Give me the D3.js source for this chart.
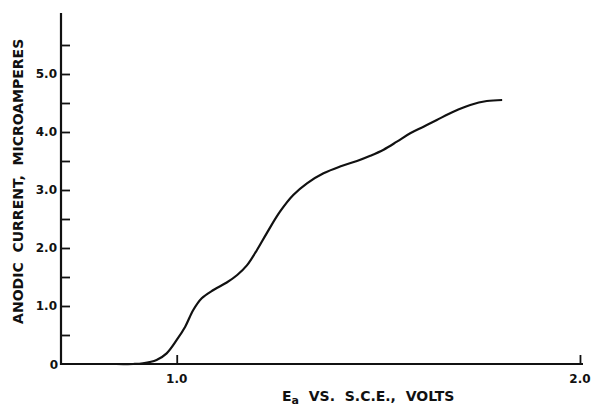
<!DOCTYPE html>
<html>
<head>
<meta charset="utf-8">
<script src="https://cdn.jsdelivr.net/npm/d3@7/dist/d3.min.js"></script>
<style>
  html, body { margin: 0; padding: 0; background: #fff; }
  svg { display: block; }
  .lbl { font-family: "DejaVu Sans", sans-serif; font-weight: bold; fill: #111; }
</style>
</head>
<body>
<svg id="chart" width="591" height="406"></svg>
<script>
// Anodic polarization curve: potential (V vs. S.C.E.) and current (µA)
const potential = [0.713, 0.85, 0.892, 0.916, 0.95, 0.975, 1.000, 1.021, 1.041, 1.062, 1.091, 1.124, 1.150, 1.174, 1.199, 1.223, 1.256, 1.289, 1.323, 1.364, 1.405, 1.447, 1.480, 1.513, 1.546, 1.579, 1.612, 1.645, 1.686, 1.728, 1.769, 1.807];
const current   = [0, 0, 0, 0.012, 0.07, 0.184, 0.414, 0.643, 0.931, 1.133, 1.276, 1.405, 1.535, 1.700, 1.966, 2.253, 2.626, 2.914, 3.116, 3.288, 3.405, 3.500, 3.590, 3.695, 3.833, 3.978, 4.091, 4.207, 4.350, 4.466, 4.534, 4.552];

const yMajorTicks = [1.0, 2.0, 3.0, 4.0, 5.0];
const yMinorTicks = [0.5, 1.5, 2.5, 3.5, 4.5, 5.5];
const xTicks = [1.0, 2.0];
const yLabel = "ANODIC  CURRENT,  MICROAMPERES";

const svg = d3.select("#chart");

const x = d3.scaleLinear().domain([0.713, 2.0075]).range([61, 583]);
const y = d3.scaleLinear().domain([0, 6.0]).range([364, 16]);

// curve
const line = d3.line()
  .x((d, i) => x(potential[i]))
  .y((d, i) => y(current[i]))
  .curve(d3.curveCatmullRom.alpha(0.5));

svg.append("path")
  .datum(current)
  .attr("d", line)
  .attr("fill", "none")
  .attr("stroke", "#111")
  .attr("stroke-width", 2.2)
  .attr("stroke-linejoin", "round");

// y axis: line with inward ticks
const yAxis = d3.axisRight(y)
  .tickValues(yMajorTicks.concat(yMinorTicks))
  .tickSize(9)
  .tickFormat("");
const gy = svg.append("g").attr("transform", `translate(${x(0.713)},0)`).call(yAxis);
gy.select(".domain").remove();
gy.selectAll(".tick line").attr("stroke", "#111").attr("stroke-width", 1.8);
svg.append("line")
  .attr("x1", x(0.713)).attr("x2", x(0.713))
  .attr("y1", 13).attr("y2", y(0) + 1)
  .attr("stroke", "#111").attr("stroke-width", 2.2);

// x axis: line with upward ticks
const xAxis = d3.axisTop(x).tickValues(xTicks).tickSize(9).tickFormat("");
const gx = svg.append("g").attr("transform", `translate(0,${y(0)})`).call(xAxis);
gx.select(".domain").remove();
gx.selectAll(".tick line").attr("stroke", "#111").attr("stroke-width", 1.8);
svg.append("line")
  .attr("x1", x(0.713) - 1).attr("x2", x(2.0075))
  .attr("y1", y(0)).attr("y2", y(0))
  .attr("stroke", "#111").attr("stroke-width", 2.2);

// tick labels
svg.selectAll(".ytl").data(yMajorTicks).enter().append("text")
  .attr("class", "lbl")
  .attr("x", x(0.713) - 4).attr("y", d => y(d))
  .attr("dy", "0.36em")
  .attr("text-anchor", "end")
  .attr("font-size", 12)
  .text(d => d.toFixed(1));
svg.append("text").attr("class", "lbl")
  .attr("x", x(0.713) - 3).attr("y", y(0) + 1)
  .attr("dy", "0.36em").attr("text-anchor", "end").attr("font-size", 12)
  .text("0");
svg.selectAll(".xtl").data(xTicks).enter().append("text")
  .attr("class", "lbl")
  .attr("x", d => x(d)).attr("y", y(0) + 19)
  .attr("text-anchor", "middle")
  .attr("font-size", 12)
  .text(d => d.toFixed(1));

// axis titles
svg.append("text").attr("class", "lbl")
  .attr("transform", `translate(23,${y(3.15)}) rotate(-90)`)
  .attr("text-anchor", "middle")
  .attr("font-size", 14)
  .style("white-space", "pre")
  .text(yLabel);

const xt = svg.append("text").attr("class", "lbl")
  .attr("x", 282).attr("y", 401)
  .attr("font-size", 14)
  .style("white-space", "pre");
xt.append("tspan").text("E");
xt.append("tspan").attr("font-size", 11).attr("dy", 3).text("a");
xt.append("tspan").attr("dy", -3).text("  VS.  S.C.E.,  VOLTS");
</script>
</body>
</html>
